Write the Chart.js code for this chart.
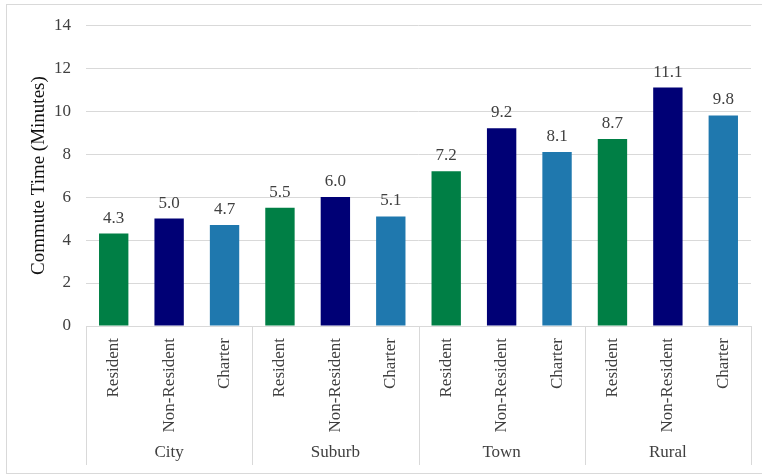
<!DOCTYPE html>
<html>
<head>
<meta charset="utf-8">
<script src="https://cdn.jsdelivr.net/npm/chart.js@4"></script>
<style>
  html, body { margin: 0; padding: 0; background: #ffffff; }
  #wrap { width: 762px; height: 475px; }
</style>
</head>
<body>
<div id="wrap"><canvas id="chart" width="762" height="475"></canvas></div>
<script>
// Commute time by locale and school type
const groups = ['City', 'Suburb', 'Town', 'Rural'];
const schoolTypes = ['Resident', 'Non-Resident', 'Charter'];
const resident = [4.3, 5.5, 7.2, 8.7];
const nonResident = [5.0, 6.0, 9.2, 11.1];
const charter = [4.7, 5.1, 8.1, 9.8];
const yMin = 0, yMax = 14, yStep = 2;

const typeColors = ['#007f45', '#000075', '#1f78ae'];
const seriesByType = [resident, nonResident, charter];

const FONT = "'Liberation Serif', 'Times New Roman', serif";
const GRID = '#d9d9d9';
const SIZE = 17;

const labels = [];
const values = [];
const colors = [];
groups.forEach((g, gi) => {
  schoolTypes.forEach((t, ti) => {
    labels.push(t);
    values.push(seriesByType[ti][gi]);
    colors.push(typeColors[ti]);
  });
});

// outer frame of the chart
const framePlugin = {
  id: 'frame',
  beforeDraw(chart) {
    const ctx = chart.ctx;
    ctx.save();
    ctx.fillStyle = '#ffffff';
    ctx.fillRect(0, 0, chart.width, chart.height);
    ctx.strokeStyle = GRID;
    ctx.lineWidth = 1;
    ctx.strokeRect(6.5, 4.5, chart.width + 10, 469);
    ctx.restore();
  }
};

// value labels above each bar
const valueLabelPlugin = {
  id: 'valueLabels',
  afterDatasetsDraw(chart) {
    const ctx = chart.ctx;
    const meta = chart.getDatasetMeta(0);
    ctx.save();
    ctx.font = SIZE + 'px ' + FONT;
    ctx.fillStyle = '#404040';
    ctx.textAlign = 'center';
    ctx.textBaseline = 'alphabetic';
    meta.data.forEach((bar, i) => {
      ctx.fillText(values[i].toFixed(1), bar.x, bar.y - 11);
    });
    ctx.restore();
  }
};

// locale group separators and names beneath the type labels
const groupAxisPlugin = {
  id: 'groupAxis',
  afterDraw(chart) {
    const ctx = chart.ctx;
    const x = chart.scales.x;
    const area = chart.chartArea;
    const n = schoolTypes.length;
    const half = (x.getPixelForValue(1) - x.getPixelForValue(0)) / 2;
    ctx.save();
    ctx.strokeStyle = GRID;
    ctx.lineWidth = 1;
    for (let g = 0; g <= groups.length; g++) {
      const idx = Math.min(g * n, labels.length - 1);
      let px = g * n < labels.length ? x.getPixelForValue(idx) - half : x.getPixelForValue(idx) + half;
      px = Math.round(px) + 0.5;
      ctx.beginPath();
      ctx.moveTo(px, area.bottom);
      ctx.lineTo(px, 465);
      ctx.stroke();
    }
    ctx.font = SIZE + 'px ' + FONT;
    ctx.fillStyle = '#404040';
    ctx.textAlign = 'center';
    ctx.textBaseline = 'middle';
    groups.forEach((g, gi) => {
      const a = x.getPixelForValue(gi * n);
      const b = x.getPixelForValue(gi * n + n - 1);
      ctx.fillText(g, (a + b) / 2, 453);
    });
    ctx.restore();
  }
};

new Chart(document.getElementById('chart'), {
  type: 'bar',
  data: {
    labels: labels,
    datasets: [{
      data: values,
      backgroundColor: colors,
      borderWidth: 0,
      categoryPercentage: 1.0,
      barPercentage: 0.53
    }]
  },
  options: {
    responsive: false,
    animation: false,
    events: [],
    layout: { padding: { top: 24, right: 11, bottom: 0, left: 0 } },
    plugins: {
      legend: { display: false },
      tooltip: { enabled: false },
      title: { display: false }
    },
    scales: {
      x: {
        grid: { display: false },
        border: { display: true, color: GRID, width: 1 },
        ticks: {
          minRotation: 90,
          maxRotation: 90,
          autoSkip: false,
          padding: 4,
          color: '#404040',
          font: { family: FONT, size: SIZE }
        },
        afterFit(scale) { scale.height = 149; }
      },
      y: {
        min: yMin,
        max: yMax,
        ticks: {
          stepSize: yStep,
          padding: 15,
          color: '#404040',
          font: { family: FONT, size: SIZE }
        },
        grid: { color: GRID, drawTicks: false, lineWidth: 1 },
        border: { display: false },
        title: {
          display: true,
          text: 'Commute Time (Minutes)',
          color: '#111111',
          font: { family: FONT, size: 19 },
          padding: { top: 28, bottom: 0 }
        },
        afterFit(scale) { scale.width = 86; }
      }
    }
  },
  plugins: [framePlugin, valueLabelPlugin, groupAxisPlugin]
});
</script>
</body>
</html>
